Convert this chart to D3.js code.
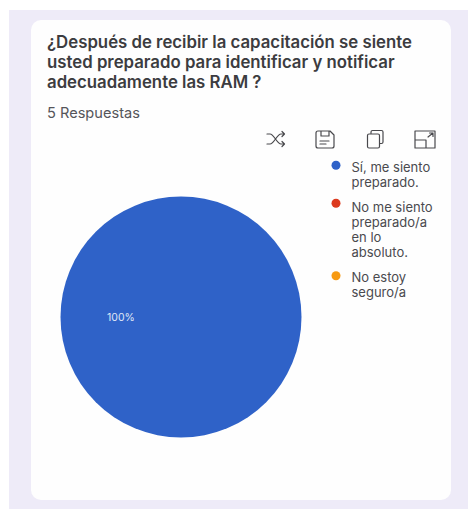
<!DOCTYPE html>
<html>
<head>
<meta charset="utf-8">
<script src="https://cdn.jsdelivr.net/npm/d3@7"></script>
<style>
html,body{margin:0;padding:0;background:#fff}
svg{display:block}
text{font-family:"Inter","Liberation Sans",sans-serif}
</style>
</head>
<body>
<svg id="chart" width="468" height="509"></svg>
<script>
// Survey results
const titleLines = ["¿Después de recibir la capacitación se siente", "usted preparado para identificar y notificar", "adecuadamente las RAM ?"];
const subtitle = "5 Respuestas";
const categories = ["Sí, me siento preparado.", "No me siento preparado/a en lo absoluto.", "No estoy seguro/a"];
const legendLines = [["Sí, me siento", "preparado."], ["No me siento", "preparado/a", "en lo", "absoluto."], ["No estoy", "seguro/a"]];
const responses = [5, 0, 0];
const palette = ["#2f62c8", "#dc3a1e", "#f79a12"];

const svg = d3.select("#chart");

// Page backdrop and card
svg.append("rect").attr("x", 9).attr("y", 10).attr("width", 459).attr("height", 499).attr("fill", "#eeebf8");
svg.append("rect").attr("x", 31).attr("y", 20).attr("width", 420).attr("height", 480).attr("rx", 10).attr("fill", "#fefefe");

// Heading
svg.append("g").selectAll("text").data(titleLines).join("text")
  .attr("x", 47).attr("y", (d, i) => 47.5 + i * 20.4)
  .attr("font-size", 16.8).attr("font-weight", 600).attr("fill", "#3c3c40")
  .text(d => d);
svg.append("text").attr("x", 47).attr("y", 118).attr("font-size", 14.6).attr("fill", "#55555a").text(subtitle);

// Toolbar icons
const tools = svg.append("g").attr("fill", "none").attr("stroke", "#48484c").attr("stroke-width", 1.2)
  .attr("stroke-linecap", "round").attr("stroke-linejoin", "round");
tools.append("path").attr("d", "M267 134h3c4 0 7 10 11 10h3M267 144h3c4 0 7-10 11-10h3M282 131.500l2.500 2.500-2.500 2.500M282 141.500l2.500 2.500-2.500 2.500");
tools.append("path").attr("d", "M318 131h12l4 4v11a2 2 0 0 1-2 2h-14a2 2 0 0 1-2-2v-13a2 2 0 0 1 2-2zM321 131v5h8v-5M320 141h9M320 144h6");
tools.append("path").attr("d", "M371 133v-1a1.500 1.500 0 0 1 1.500-1.500h9a1.500 1.500 0 0 1 1.500 1.500v10a1.500 1.500 0 0 1-1.500 1.500h-1.500M369 134h9a1.500 1.500 0 0 1 1.500 1.500v11a1.500 1.500 0 0 1-1.500 1.500h-9a1.500 1.500 0 0 1-1.500-1.500v-11a1.500 1.500 0 0 1 1.500-1.500z");
tools.append("path").attr("d", "M415 131h20v17h-20zM415 140h11v8M428 137l5-4M429.500 133h3.500v3.500");

// Pie
const pie = d3.pie().sort(null).value(d => d);
const arc = d3.arc().innerRadius(0).outerRadius(120.5);
const plot = svg.append("g").attr("transform", "translate(181,317)");
const slices = pie(responses);
plot.selectAll("path").data(slices.filter(d => d.value > 0)).join("path")
  .attr("d", arc).attr("fill", d => palette[d.index]);

// Percentage label placed in the leading slice
const total = d3.sum(responses);
const pct = d3.format(".0%");
plot.append("text").attr("x", -60).attr("y", 4).attr("text-anchor", "middle")
  .attr("font-size", 10.500).attr("fill", "#dfe6f6").text(pct(responses[0] / total));

// Legend
const lineHeight = 15;
const itemBaselines = [171.5, 211.5, 282];
const dotCentres = [165.3, 203.3, 275.7];
const legend = svg.append("g").selectAll("g").data(categories).join("g");
legend.append("circle").attr("cx", 336).attr("cy", (d, i) => dotCentres[i]).attr("r", 4.5).attr("fill", (d, i) => palette[i]);
legend.each(function (d, i) {
  d3.select(this).selectAll("text").data(legendLines[i]).join("text")
    .attr("x", 351.5).attr("y", (t, j) => itemBaselines[i] + j * lineHeight)
    .attr("font-size", 13).attr("fill", "#4a4a4e").text(t => t);
});
</script>
</body>
</html>
